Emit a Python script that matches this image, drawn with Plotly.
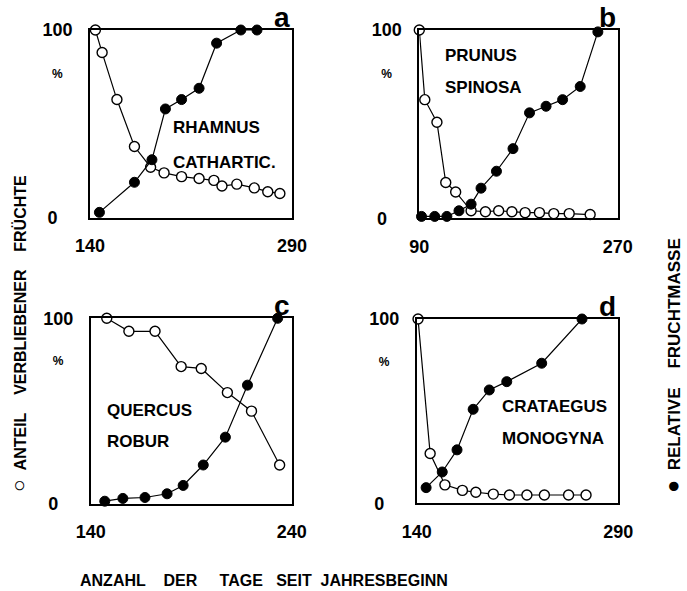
import plotly.graph_objects as go

W, H = 687, 591
FONT = "Liberation Sans, Arial, Helvetica, sans-serif"
NB = "\u00a0"

# ---------------- data ----------------
A_open_x = [144, 149, 160, 173, 185, 195, 208, 221, 232, 238, 249, 262, 272, 281]
A_open_y = [100, 88, 63, 38, 27, 24, 22, 21, 20, 17, 18, 16, 14, 13]
A_fill_x = [147, 173, 186, 196, 208, 221, 234, 252, 264]
A_fill_y = [3, 19, 31, 58, 63, 69, 93, 100, 100]

B_open_x = [90, 95, 106, 114, 123, 137, 150, 162, 174, 186, 199, 212, 226, 245]
B_open_y = [100, 63, 51, 19, 14, 4, 3.5, 4, 3.5, 3, 3, 2.5, 2.5, 2]
B_fill_x = [92, 104, 115, 126, 137, 146, 160, 175, 190, 205, 220, 236, 252]
B_fill_y = [1, 1, 1, 4, 7.5, 16, 25, 37, 56, 59.5, 63, 70, 99]

C_open_x = [148, 159, 172, 185, 195, 208, 220, 234]
C_open_y = [100, 93, 93, 74, 73, 60, 50, 21]
C_fill_x = [147, 156, 167, 178, 186, 196, 207, 218, 233]
C_fill_y = [1.5, 3, 3.5, 5.5, 10, 21, 36, 64, 100]

D_open_x = [141, 150, 161, 174, 184, 197, 209, 222, 235, 253, 266]
D_open_y = [100, 27, 10, 7, 6, 5, 4.5, 4.5, 4.5, 4.5, 4.5]
D_fill_x = [147, 159, 170, 182, 194, 207, 233, 263]
D_fill_y = [8.5, 17, 29, 51, 61.5, 66, 76, 100]

x_ranges = [[140, 290], [90, 270], [140, 240], [140, 290]]
panel_letters = ["a", "b", "c", "d"]
species = [["RHAMNUS", "CATHARTIC."], ["PRUNUS", "SPINOSA"],
           ["QUERCUS", "ROBUR"], ["CRATAEGUS", "MONOGYNA"]]
y_tickvals = [0, 78, 100]
y_label_pct = "%"

open_series = [(A_open_x, A_open_y), (B_open_x, B_open_y), (C_open_x, C_open_y), (D_open_x, D_open_y)]
fill_series = [(A_fill_x, A_fill_y), (B_fill_x, B_fill_y), (C_fill_x, C_fill_y), (D_fill_x, D_fill_y)]

# ---------------- layout geometry (pixels) ----------------
boxes = [  # left, right, top, bottom
    (90, 292, 30, 218),
    (419.3, 617.7, 30, 218.3),
    (90.7, 291.7, 318.3, 504),
    (416.7, 618.3, 319, 503.3),
]
species_pos = [(0.40, 0.479, 0.293), (0.118, 0.862, 0.695),
               (0.071, 0.506, 0.335), (0.413, 0.524, 0.353)]

fig = go.Figure()
layout = dict(
    width=W, height=H, margin=dict(l=0, r=0, t=0, b=0, autoexpand=False),
    paper_bgcolor="white", plot_bgcolor="white", showlegend=False,
    font=dict(family=FONT, size=17, color="black"),
)
annotations = []

for i in range(4):
    sx = "" if i == 0 else str(i + 1)
    xa, ya = "xaxis" + sx, "yaxis" + sx
    l, r, t, b = boxes[i]
    layout[xa] = dict(
        domain=[l / W, r / W], range=x_ranges[i], anchor="y" + sx, automargin=False,
        showline=True, mirror=True, linecolor="black", linewidth=1.6,
        showgrid=False, zeroline=False, ticks="",
        tickvals=x_ranges[i], ticktext=[str(v) for v in x_ranges[i]],
        ticklabelstandoff=11,
        tickfont=dict(family=FONT, size=18, color="black", weight="bold"),
    )
    layout[ya] = dict(
        domain=[1 - b / H, 1 - t / H], range=[0, 100], anchor="x" + sx, automargin=False,
        showline=True, mirror=True, linecolor="black", linewidth=1.6,
        showgrid=False, zeroline=False, ticks="",
        tickvals=y_tickvals,
        ticktext=["0" + NB * 3,
                  "<span style='font-size:12px'>" + y_label_pct + NB * 3 + "</span>",
                  "100"],
        ticklabelstandoff=12,
        tickfont=dict(family=FONT, size=18, color="black", weight="bold"),
    )
    ox, oy = open_series[i]
    fx, fy = fill_series[i]
    fig.add_trace(go.Scatter(
        x=ox, y=oy, xaxis="x" + sx, yaxis="y" + sx, mode="lines+markers",
        line=dict(color="black", width=1.2), cliponaxis=False,
        marker=dict(symbol="circle", size=10, color="white",
                    line=dict(color="black", width=1.4)),
    ))
    fig.add_trace(go.Scatter(
        x=fx, y=fy, xaxis="x" + sx, yaxis="y" + sx, mode="lines+markers",
        line=dict(color="black", width=1.2), cliponaxis=False,
        marker=dict(symbol="circle", size=10, color="black",
                    line=dict(color="black", width=1)),
    ))
    annotations.append(dict(
        text="<b>" + panel_letters[i] + "</b>", xref="x" + sx + " domain", yref="y" + sx + " domain",
        x=1, y=1, xanchor="right", yanchor="bottom", showarrow=False, yshift=-5,
        font=dict(family=FONT, size=28, color="black"),
    ))
    px, py1, py2 = species_pos[i]
    for txt, py in ((species[i][0], py1), (species[i][1], py2)):
        annotations.append(dict(
            text="<b>" + txt + "</b>", xref="x" + sx + " domain", yref="y" + sx + " domain",
            x=px, y=py, xanchor="left", yanchor="middle", showarrow=False,
            font=dict(family=FONT, size=17, color="black"),
        ))

annotations.append(dict(
    text="<b><span style='font-size:21px'>\u25CB</span>" + NB * 2 + "ANTEIL" + NB * 4
         + "VERBLIEBENER" + NB * 4 + "FRÜCHTE</b>",
    xref="paper", yref="paper", x=18 / W, y=1 - 334 / H, textangle=-90,
    showarrow=False, xanchor="center", yanchor="middle",
    font=dict(family=FONT, size=16, color="black"),
))
annotations.append(dict(
    text="<b><span style='font-size:22px'>\u25CF</span>" + NB * 2 + "RELATIVE" + NB * 4 + "FRUCHTMASSE</b>",
    xref="paper", yref="paper", x=672 / W, y=1 - 366 / H, textangle=-90,
    showarrow=False, xanchor="center", yanchor="middle",
    font=dict(family=FONT, size=17, color="black"),
))
annotations.append(dict(
    text="<b>ANZAHL" + NB * 4 + "DER" + NB * 5 + "TAGE" + NB * 3 + "SEIT" + NB * 2 + "JAHRESBEGINN</b>",
    xref="paper", yref="paper", x=78 / W, y=1 - 580 / H,
    showarrow=False, xanchor="left", yanchor="middle",
    font=dict(family=FONT, size=16, color="black"),
))

layout["annotations"] = annotations
fig.update_layout(**layout)
fig.write_html("out.html", config={"displayModeBar": False},
               post_script="document.body.style.margin='0px';")
